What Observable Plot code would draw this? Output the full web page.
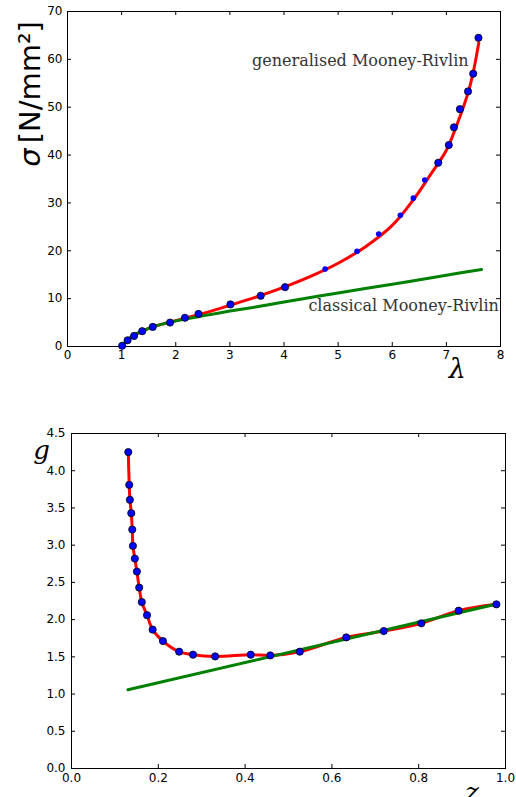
<!DOCTYPE html>
<html>
<head>
<meta charset="utf-8">
<script src="https://cdn.jsdelivr.net/npm/d3@7"></script>
<script src="https://cdn.jsdelivr.net/npm/@observablehq/plot@0.6"></script>
<style>
  html, body { margin: 0; padding: 0; background: #fff; }
  #chart svg { display: block; }
</style>
</head>
<body>
<div id="chart"></div>
<script>
// ---------- Top panel: stress vs stretch ----------
const topLambda = [1.01, 1.11, 1.23, 1.38, 1.575, 1.895, 2.17, 2.42, 3.01, 3.57, 4.02, 4.76, 5.35, 5.75, 6.15, 6.39, 6.60, 6.85, 7.045, 7.14, 7.25, 7.40, 7.495, 7.593];
const topSigma  = [0.15, 1.3, 2.2, 3.2, 4.1, 5.0, 6.0, 6.8, 8.8, 10.6, 12.4, 16.2, 19.9, 23.5, 27.4, 31.0, 34.8, 38.4, 42.1, 45.8, 49.6, 53.3, 57.0, 64.5];
const topMarker = ["big","big","big","big","big","big","big","big","big","big","big","small","small","small","small","small","small","big","big","big","big","big","big","big"];

// generalised Mooney-Rivlin fit (red curve)
const genLambda = [1.0, 1.1, 1.2, 1.4, 1.6, 1.9, 2.2, 2.5, 3.0, 3.5, 4.0, 4.5, 5.0, 5.5, 6.0, 6.4, 6.7, 7.0, 7.2, 7.4, 7.5, 7.6];
const genSigma  = [0.0, 1.2, 2.1, 3.3, 4.2, 5.1, 6.0, 6.9, 8.6, 10.4, 12.4, 14.7, 17.4, 20.8, 25.3, 30.8, 35.8, 41.0, 46.5, 53.0, 57.5, 63.5];

// classical Mooney-Rivlin (green curve)
const classicLambda = [1.0, 1.1, 1.2, 1.4, 1.6, 1.9, 2.2, 2.5, 3.0, 3.5, 4.0, 5.0, 6.0, 7.0, 7.65];
const classicSigma  = [0.0, 1.3, 2.2, 3.3, 4.2, 5.1, 5.8, 6.4, 7.4, 8.3, 9.3, 11.2, 13.0, 14.9, 16.1];

const topXTicks = [0, 1, 2, 3, 4, 5, 6, 7, 8];
const topYTicks = [0, 10, 20, 30, 40, 50, 60, 70];

const topNotes = ["generalised Mooney-Rivlin", "classical Mooney-Rivlin"];
const topNoteX = [7.41, 7.97];
const topNoteY = [59.6, 8.5];

// ---------- Bottom panel: g vs z ----------
const gZ = [0.1308, 0.133, 0.1346, 0.1377, 0.140, 0.1415, 0.146, 0.1507, 0.156, 0.162, 0.174, 0.187, 0.2107, 0.248, 0.280, 0.331, 0.413, 0.458, 0.526, 0.633, 0.7195, 0.806, 0.892, 0.979];
const gG = [4.25, 3.81, 3.61, 3.43, 3.21, 2.99, 2.82, 2.645, 2.43, 2.236, 2.06, 1.865, 1.712, 1.569, 1.529, 1.506, 1.529, 1.519, 1.569, 1.761, 1.846, 1.95, 2.12, 2.205];

const lineZ = [0.13, 0.98];
const lineG = [1.058, 2.21];

const botXTicks = [0, 0.2, 0.4, 0.6, 0.8, 1.0];
const botYTicks = [0, 0.5, 1.0, 1.5, 2.0, 2.5, 3.0, 3.5, 4.0, 4.5];

// ---------- tables ----------
const topPts = topLambda.map((x, i) => ({x, y: topSigma[i], m: topMarker[i]}));
const genPts = genLambda.map((x, i) => ({x, y: genSigma[i]}));
const classicPts = classicLambda.map((x, i) => ({x, y: classicSigma[i]}));
const notes = topNotes.map((t, i) => ({t, x: topNoteX[i], y: topNoteY[i]}));
const gPts = gZ.map((x, i) => ({x, y: gG[i]}));
const linePts = lineZ.map((x, i) => ({x, y: lineG[i]}));

const W = 516;
const tickLen = 4;
const baseStyle = {fontFamily: "DejaVu Sans", fontSize: "12px", color: "black", background: "white", overflow: "visible"};

// top layout
const tH = 400, tMT = 11, tMB = 54, tML = 67, tMR = 16;
const tIW = W - tML - tMR, tIH = tH - tMT - tMB;

const topChart = Plot.plot({
  width: W, height: tH,
  marginTop: tMT, marginBottom: tMB, marginLeft: tML, marginRight: tMR,
  style: baseStyle,
  x: {domain: [0, 8]},
  y: {domain: [0, 70]},
  marks: [
    Plot.axisX({ticks: topXTicks, tickSize: 0, tickPadding: 4, label: null, tickFormat: d3.format("d")}),
    Plot.axisY({ticks: topYTicks, tickSize: 0, tickPadding: 5, label: null, tickFormat: d3.format("d")}),
    Plot.tickX(topXTicks, {x: d => d, insetTop: tIH - tickLen, stroke: "black"}),
    Plot.tickX(topXTicks, {x: d => d, insetBottom: tIH - tickLen, stroke: "black"}),
    Plot.tickY(topYTicks, {y: d => d, insetRight: tIW - tickLen, stroke: "black"}),
    Plot.tickY(topYTicks, {y: d => d, insetLeft: tIW - tickLen, stroke: "black"}),
    Plot.frame({stroke: "black"}),
    Plot.line(genPts, {x: "x", y: "y", stroke: "#ff0000", strokeWidth: 3, curve: "catmull-rom"}),
    Plot.line(classicPts, {x: "x", y: "y", stroke: "#008000", strokeWidth: 3, curve: "catmull-rom"}),
    Plot.dot(topPts.filter(d => d.m === "big"), {x: "x", y: "y", r: 3.6, fill: "#0000ff", stroke: "black", strokeWidth: 0.8}),
    Plot.dot(topPts.filter(d => d.m === "small"), {x: "x", y: "y", r: 2.8, fill: "#0000ff"}),
    Plot.text(notes, {x: "x", y: "y", text: "t", textAnchor: "end", lineAnchor: "middle", fontFamily: "DejaVu Serif", fontSize: 16, fill: "#333"}),
    Plot.text(["σ"], {frameAnchor: "top-left", textAnchor: "middle", lineAnchor: "middle", rotate: -90, dx: -36.8, dy: 146, fontSize: 29, fontStyle: "italic", fontFamily: "DejaVu Sans", fill: "black"}),
    Plot.text(["[N/mm²]"], {frameAnchor: "top-left", textAnchor: "middle", lineAnchor: "middle", rotate: -90, dx: -36.8, dy: 70.7, fontSize: 29, fontFamily: "DejaVu Sans", fill: "black"}),
    Plot.text(["λ"], {frameAnchor: "bottom-left", textAnchor: "middle", lineAnchor: "middle", dx: 389.7, dy: 22.7, fontSize: 27, fontStyle: "italic", fontFamily: "DejaVu Serif", fill: "black"})
  ]
});

// bottom layout
const bH = 397, bMT = 33, bMB = 29, bML = 71, bMR = 11;
const bIW = W - bML - bMR, bIH = bH - bMT - bMB;

const bottomChart = Plot.plot({
  width: W, height: bH,
  marginTop: bMT, marginBottom: bMB, marginLeft: bML, marginRight: bMR,
  style: baseStyle,
  x: {domain: [0, 1]},
  y: {domain: [0, 4.5]},
  marks: [
    Plot.axisX({ticks: botXTicks, tickSize: 0, tickPadding: 5, label: null, tickFormat: d3.format(".1f")}),
    Plot.axisY({ticks: botYTicks, tickSize: 0, tickPadding: 6, label: null, tickFormat: d3.format(".1f")}),
    Plot.tickX(botXTicks, {x: d => d, insetTop: bIH - tickLen, stroke: "black"}),
    Plot.tickX(botXTicks, {x: d => d, insetBottom: bIH - tickLen, stroke: "black"}),
    Plot.tickY(botYTicks, {y: d => d, insetRight: bIW - tickLen, stroke: "black"}),
    Plot.tickY(botYTicks, {y: d => d, insetLeft: bIW - tickLen, stroke: "black"}),
    Plot.frame({stroke: "black"}),
    Plot.line(gPts, {x: "x", y: "y", stroke: "#ff0000", strokeWidth: 3, curve: "catmull-rom"}),
    Plot.line(linePts, {x: "x", y: "y", stroke: "#008000", strokeWidth: 3}),
    Plot.dot(gPts, {x: "x", y: "y", r: 3.6, fill: "#0000ff", stroke: "black", strokeWidth: 0.8}),
    Plot.text(["g"], {frameAnchor: "top-left", textAnchor: "middle", lineAnchor: "middle", dx: -30, dy: 17.5, fontSize: 26, fontStyle: "italic", fontFamily: "DejaVu Serif", fill: "black"}),
    Plot.text(["z"], {frameAnchor: "bottom-left", textAnchor: "middle", lineAnchor: "middle", dx: 400.5, dy: 23.9, fontSize: 26, fontStyle: "italic", fontFamily: "DejaVu Serif", fill: "black"})
  ]
});

const root = document.getElementById("chart");
root.appendChild(topChart);
root.appendChild(bottomChart);
</script>
</body>
</html>
